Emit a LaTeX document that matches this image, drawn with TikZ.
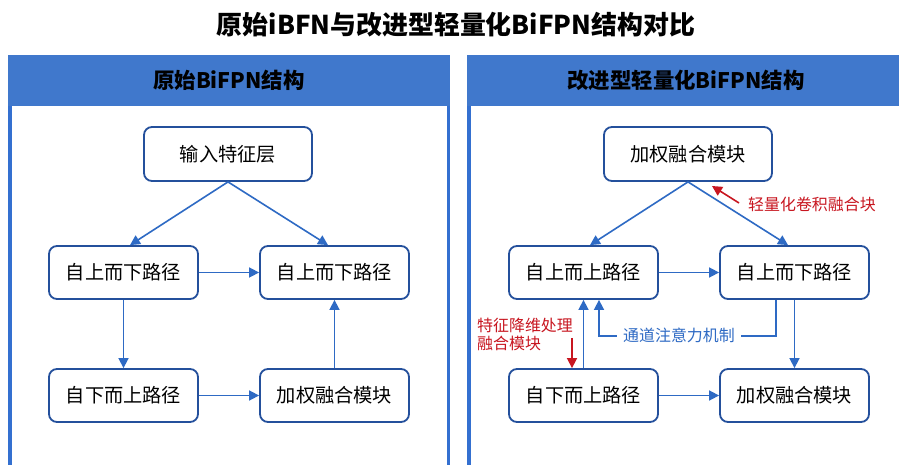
\documentclass[tikz,border=0pt]{standalone}
\usepackage{fontspec}
\setmainfont{Noto Sans CJK SC}
\usetikzlibrary{arrows.meta}
\definecolor{hdr}{RGB}{64,120,204}
\definecolor{pborder}{RGB}{52,112,208}
\definecolor{nborder}{RGB}{36,80,156}
\definecolor{lnblue}{RGB}{46,106,196}
\definecolor{lred}{RGB}{200,22,32}
\tikzset{
  box/.style={draw=nborder, line width=1.8bp, rounded corners=8bp, fill=white,
    minimum width=149bp, minimum height=53bp, inner sep=0pt,
    font=\fontsize{19.3}{22}\selectfont, text=black},
  topbox/.style={box, minimum width=168bp, minimum height=54bp},
  conn/.style={draw=lnblue, line width=1.6bp, -{Triangle[length=10bp,width=10bp]}},
  redconn/.style={draw=lred, line width=1.6bp, -{Triangle[length=10bp,width=10bp]}},
  lbl/.style={font=\fontsize{16}{18}\selectfont, inner sep=0pt},
  hdrtext/.style={font=\fontsize{21.5}{24}\selectfont\bfseries, text=black},
  panelline/.style={draw=pborder, line width=3.5bp}
}
\begin{document}
\begin{tikzpicture}[x=1bp,y=-1bp]
\useasboundingbox (0,0) rectangle (899,465);
\fill[white] (0,0) rectangle (899,465);
% title
\node[font=\fontsize{26}{30}\selectfont\bfseries] (title) at (456,25) {原始iBFN与改进型轻量化BiFPN结构对比};
% left panel
\draw[panelline] (9.75,100) -- (9.75,470);
\draw[panelline] (448.25,100) -- (448.25,470);
\fill[hdr] (8,55) rectangle (450,106);
\node[hdrtext] (lh) at (229,80) {原始BiFPN结构};
% right panel
\draw[panelline] (469,100) -- (469,470);
\fill[hdr] (467,55) rectangle (899,106);
\node[hdrtext] (rh) at (686,80) {改进型轻量化BiFPN结构};
% left nodes
\node[topbox] (L0) at (228,154) {输入特征层};
\node[box] (L1) at (123.5,272.5) {自上而下路径};
\node[box] (L2) at (334.5,272.5) {自上而下路径};
\node[box] (L3) at (123.5,395.5) {自下而上路径};
\node[box] (L4) at (334.5,395.5) {加权融合模块};
\draw[conn] (L0.south) -- ([xshift=6.5bp]L1.north);
\draw[conn] (L0.south) -- ([xshift=-6.5bp]L2.north);
\draw[conn] (L1.east) -- (L2.west);
\draw[conn] (L1.south) -- (L3.north);
\draw[conn] (L3.east) -- (L4.west);
\draw[conn] (L4.north) -- (L2.south);
% right nodes
\node[topbox] (R0) at (688,154) {加权融合模块};
\node[box] (R1) at (583.5,272.5) {自上而上路径};
\node[box] (R2) at (794.5,272.5) {自上而下路径};
\node[box] (R3) at (583.5,395.5) {自下而上路径};
\node[box] (R4) at (794.5,395.5) {加权融合模块};
\draw[conn] (R0.south) -- ([xshift=6.5bp]R1.north);
\draw[conn] (R0.south) -- ([xshift=-6.5bp]R2.north);
\draw[conn] (R1.east) -- (R2.west);
\draw[conn] (R3.north) -- (R1.south);
\draw[conn] (R2.south) -- (R4.north);
\draw[conn] (R3.east) -- (R4.west);
% channel attention
\draw[conn] ([xshift=-18.5bp]R2.south) -- ++(0,36) -| ([xshift=15.5bp]R1.south);
\node[lbl, text=lnblue, fill=white, inner xsep=6.5bp, inner ysep=2bp] (ca) at (679,335) {通道注意力机制};
% red annotations
\coordinate (ra1) at (739,203);
\coordinate (ra2) at (712,186);
\draw[redconn] (ra1) -- (ra2);
\node[lbl, text=lred, anchor=west] (rl1) at (748,204) {轻量化卷积融合块};
\coordinate (rd) at (572,338);
\draw[redconn] (rd) -- (rd |- R3.north);
\node[lbl, text=lred, anchor=west, align=left] (rl2) at (477,334) {特征降维处理\\融合模块};
\end{tikzpicture}
\end{document}
